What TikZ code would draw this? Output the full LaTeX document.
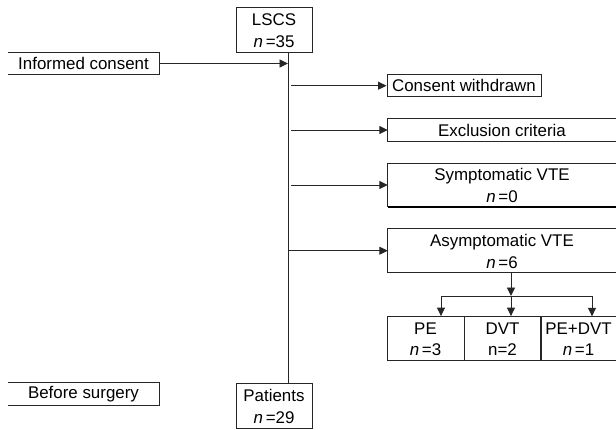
\documentclass[tikz,border=0pt]{standalone}
\usepackage{fontspec}
\setmainfont{Liberation Sans}
\usetikzlibrary{arrows.meta}
\begin{document}
\begin{tikzpicture}[x=1pt,y=-1pt,
  every node/.style={font=\fontsize{16.9}{21.7}\selectfont, inner sep=0pt, align=center},
  ln/.style={draw=black!85, line width=0.95pt},
  arr/.style={ln, -{Triangle[length=8.5pt,width=8pt]}},
  box/.style={minimum width=#1, minimum height=45pt},
  sbox/.style={minimum width=#1, minimum height=22pt},
  two/.style={text height=35pt, text depth=0pt}]
\useasboundingbox (0,0) rectangle (616,429);
% nodes
\node[box=76pt, ln, two] (lscs) at (274,29.5) {LSCS\\\textit{n}\,=35};
\node[box=76pt, ln, two] (pat) at (274,405.5) {Patients\\\textit{n}\,=29};
\node[sbox=151pt] (ic) at (83.5,63.5) {Informed consent};
\node[sbox=151pt] (bs) at (83.5,394) {Before surgery};
\node[sbox=154pt, ln] (cw) at (464,85.7) {Consent withdrawn};
\node[sbox=228pt] (ex) at (502,130) {Exclusion criteria};
\node[minimum width=228pt, minimum height=43.4pt, two] (sy) at (502,185) {Symptomatic VTE\\\textit{n}\,=0};
\node[minimum width=228pt, minimum height=44pt, two] (as) at (502,250.7) {Asymptomatic VTE\\\textit{n}\,=6};
\node[minimum width=77pt, minimum height=43.5pt, ln, two] (pe) at (425.5,338.3) {PE\\\textit{n}\,=3};
\node[minimum width=77pt, minimum height=43.5pt, ln, two] (dvt) at (502.5,338.3) {DVT\\n=2};
\node[minimum width=75pt, minimum height=43.5pt, two] (pd) at (578.5,338.3) {PE+DVT\\\textit{n}\,=1};
% open boxes
\draw[ln] (ic.north west) -- (ic.north east) -- (ic.south east) -- (ic.south west);
\draw[ln] (bs.north west) -- (bs.north east) -- (bs.south east) -- (bs.south west);
\draw[ln] (ex.north east) -- (ex.north west) -- (ex.south west) -- (ex.south east);
\draw[ln] (sy.north east) -- (sy.north west) -- (sy.south west);
\draw[draw=black, line width=2pt] (sy.south west) -- (sy.south east);
\draw[ln] (as.north east) -- (as.north west) -- (as.south west) -- (as.south east);
\draw[ln] (pd.north east) -- (pd.north west) -- (pd.south west) -- (pd.south east);
% trunk
\coordinate (t1) at (288,52);
\coordinate (t2) at (288,383);
\coordinate (s) at (291,0);
\coordinate (s0) at (288,0);
\draw[ln] (t1) -- (t2);
\draw[arr] (ic.east) -- (ic.east -| s0);
\draw[arr] (s |- cw.west) -- (cw.west);
\draw[arr] (s |- ex.west) -- (ex.west);
\draw[arr] (s |- sy.west) -- (sy.west);
\draw[arr] (s0 |- as.west) -- (as.west);
% branch
\coordinate (bt) at (511,272.7);
\coordinate (bj) at (511,296);
\coordinate (bl) at (441,296);
\coordinate (br) at (592,296);
\draw[arr] (bt) -- (bj);
\draw[ln] (bl) -- (br);
\draw[arr] (bl) -- (bl |- pe.north);
\draw[arr] (bj) -- (bj |- dvt.north);
\draw[arr] (br) -- (br |- pd.north);
\end{tikzpicture}
\end{document}
